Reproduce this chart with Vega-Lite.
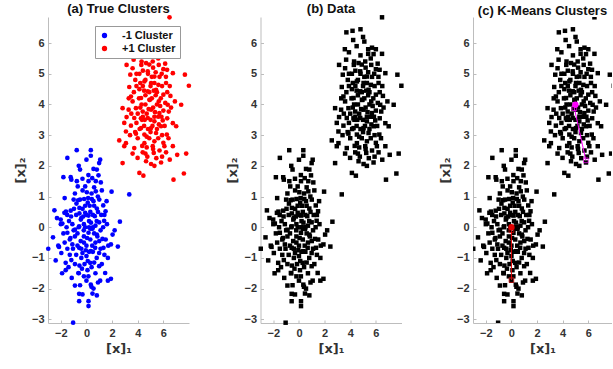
{
  "$schema": "https://vega.github.io/schema/vega-lite/v6.json",
  "background": "white",
  "padding": {"left": 14, "top": 2, "right": 0, "bottom": 0},
  "spacing": 71.5,
  "bounds": "flush",
  "config": {
    "font": "Liberation Sans",
    "view": {"stroke": null},
    "axis": {
      "grid": false,
      "domainColor": "#bdbdbd",
      "tickColor": "#bdbdbd",
      "tickSize": -3,
      "labelPadding": 7,
      "labelFontSize": 11,
      "labelFontWeight": "bold",
      "labelColor": "#333333",
      "titleFont": "DejaVu Sans",
      "titleFontSize": 13,
      "titleFontWeight": "bold",
      "titleColor": "#333333"
    },
    "title": {"fontSize": 13, "fontWeight": "bold", "color": "#111111", "offset": -1}
  },
  "datasets": {
    "pts": [
      {"x": -0.76, "y": 2.51, "c": "-1 Cluster"}, {"x": 0.34, "y": 2.51, "c": "-1 Cluster"}, {"x": 0.34, "y": 2.33, "c": "-1 Cluster"},
      {"x": -1.49, "y": 2.26, "c": "-1 Cluster"}, {"x": 1.07, "y": 2.2, "c": "-1 Cluster"}, {"x": 0.99, "y": 2.09, "c": "-1 Cluster"},
      {"x": -1.8, "y": 1.63, "c": "-1 Cluster"}, {"x": -1.23, "y": 1.63, "c": "-1 Cluster"}, {"x": -1.18, "y": 1.55, "c": "-1 Cluster"},
      {"x": -0.5, "y": 1.88, "c": "-1 Cluster"}, {"x": 0.55, "y": 1.9, "c": "-1 Cluster"}, {"x": 0.81, "y": 1.88, "c": "-1 Cluster"},
      {"x": 0.94, "y": 1.69, "c": "-1 Cluster"}, {"x": -0.31, "y": 1.58, "c": "-1 Cluster"}, {"x": 0.16, "y": 1.5, "c": "-1 Cluster"},
      {"x": 0.73, "y": 1.5, "c": "-1 Cluster"}, {"x": 1.12, "y": 1.46, "c": "-1 Cluster"}, {"x": -1.7, "y": 0.95, "c": "-1 Cluster"},
      {"x": -0.68, "y": 1.33, "c": "-1 Cluster"}, {"x": -0.1, "y": 1.33, "c": "-1 Cluster"}, {"x": 0.03, "y": 1.14, "c": "-1 Cluster"},
      {"x": 0.73, "y": 1.17, "c": "-1 Cluster"}, {"x": 1.96, "y": 1.16, "c": "-1 Cluster"}, {"x": 0.89, "y": 1.0, "c": "-1 Cluster"},
      {"x": 3.34, "y": 1.07, "c": "-1 Cluster"}, {"x": -2.5, "y": 0.55, "c": "-1 Cluster"}, {"x": -1.23, "y": 0.54, "c": "-1 Cluster"},
      {"x": -1.72, "y": 0.47, "c": "-1 Cluster"}, {"x": -1.6, "y": 0.51, "c": "-1 Cluster"}, {"x": -0.65, "y": 0.88, "c": "-1 Cluster"},
      {"x": -0.18, "y": 0.92, "c": "-1 Cluster"}, {"x": 0.13, "y": 0.95, "c": "-1 Cluster"}, {"x": 0.42, "y": 0.92, "c": "-1 Cluster"},
      {"x": 0.55, "y": 0.85, "c": "-1 Cluster"}, {"x": 1.57, "y": 0.85, "c": "-1 Cluster"}, {"x": 1.31, "y": 0.71, "c": "-1 Cluster"},
      {"x": 0.81, "y": 0.61, "c": "-1 Cluster"}, {"x": -0.55, "y": 0.63, "c": "-1 Cluster"}, {"x": -0.78, "y": 0.77, "c": "-1 Cluster"},
      {"x": -0.97, "y": 0.6, "c": "-1 Cluster"}, {"x": -0.1, "y": 0.47, "c": "-1 Cluster"}, {"x": 0.16, "y": 0.38, "c": "-1 Cluster"},
      {"x": 0.65, "y": 0.36, "c": "-1 Cluster"}, {"x": 1.49, "y": 0.52, "c": "-1 Cluster"}, {"x": -2.01, "y": 0.25, "c": "-1 Cluster"},
      {"x": -1.88, "y": 0.12, "c": "-1 Cluster"}, {"x": -1.36, "y": 0.2, "c": "-1 Cluster"}, {"x": -0.44, "y": 0.25, "c": "-1 Cluster"},
      {"x": 0.99, "y": 0.16, "c": "-1 Cluster"}, {"x": 1.38, "y": 0.21, "c": "-1 Cluster"}, {"x": 2.61, "y": 0.18, "c": "-1 Cluster"},
      {"x": -2.61, "y": -0.33, "c": "-1 Cluster"}, {"x": -1.49, "y": -0.18, "c": "-1 Cluster"}, {"x": -1.25, "y": -0.35, "c": "-1 Cluster"},
      {"x": -0.89, "y": -0.08, "c": "-1 Cluster"}, {"x": -0.57, "y": 0.03, "c": "-1 Cluster"}, {"x": -0.21, "y": -0.1, "c": "-1 Cluster"},
      {"x": 0.16, "y": -0.18, "c": "-1 Cluster"}, {"x": 0.47, "y": -0.05, "c": "-1 Cluster"}, {"x": 0.81, "y": -0.24, "c": "-1 Cluster"},
      {"x": 1.25, "y": -0.38, "c": "-1 Cluster"}, {"x": 2.04, "y": -0.24, "c": "-1 Cluster"}, {"x": 2.45, "y": -0.63, "c": "-1 Cluster"},
      {"x": -2.98, "y": -0.7, "c": "-1 Cluster"}, {"x": -2.14, "y": -0.64, "c": "-1 Cluster"}, {"x": -1.96, "y": -0.84, "c": "-1 Cluster"},
      {"x": -1.49, "y": -0.7, "c": "-1 Cluster"}, {"x": -1.1, "y": -0.56, "c": "-1 Cluster"}, {"x": -0.57, "y": -0.67, "c": "-1 Cluster"},
      {"x": -0.31, "y": -0.84, "c": "-1 Cluster"}, {"x": 0.0, "y": -0.94, "c": "-1 Cluster"}, {"x": 0.34, "y": -0.78, "c": "-1 Cluster"},
      {"x": 0.68, "y": -0.67, "c": "-1 Cluster"}, {"x": 0.99, "y": -0.84, "c": "-1 Cluster"}, {"x": 1.33, "y": -0.67, "c": "-1 Cluster"},
      {"x": 1.67, "y": -1.0, "c": "-1 Cluster"}, {"x": 1.91, "y": -0.56, "c": "-1 Cluster"}, {"x": -2.4, "y": -1.08, "c": "-1 Cluster"},
      {"x": -1.62, "y": -1.16, "c": "-1 Cluster"}, {"x": -1.18, "y": -1.07, "c": "-1 Cluster"}, {"x": -0.55, "y": -1.25, "c": "-1 Cluster"},
      {"x": 0.29, "y": -1.16, "c": "-1 Cluster"}, {"x": 0.99, "y": -1.27, "c": "-1 Cluster"}, {"x": 1.46, "y": -1.49, "c": "-1 Cluster"},
      {"x": -1.62, "y": -1.4, "c": "-1 Cluster"}, {"x": -1.15, "y": -1.65, "c": "-1 Cluster"}, {"x": -0.63, "y": -1.49, "c": "-1 Cluster"},
      {"x": 0.08, "y": -1.4, "c": "-1 Cluster"}, {"x": 1.07, "y": -1.74, "c": "-1 Cluster"}, {"x": 1.67, "y": -1.74, "c": "-1 Cluster"},
      {"x": 1.91, "y": -1.68, "c": "-1 Cluster"}, {"x": 0.0, "y": -1.74, "c": "-1 Cluster"}, {"x": 0.34, "y": -1.87, "c": "-1 Cluster"},
      {"x": -0.5, "y": -1.89, "c": "-1 Cluster"}, {"x": 0.39, "y": -1.94, "c": "-1 Cluster"}, {"x": -0.57, "y": -2.17, "c": "-1 Cluster"},
      {"x": -0.31, "y": -2.19, "c": "-1 Cluster"}, {"x": 0.47, "y": -2.16, "c": "-1 Cluster"}, {"x": 0.81, "y": -2.22, "c": "-1 Cluster"},
      {"x": -0.57, "y": -2.41, "c": "-1 Cluster"}, {"x": 0.16, "y": -2.41, "c": "-1 Cluster"}, {"x": 0.16, "y": -2.57, "c": "-1 Cluster"},
      {"x": -1.04, "y": -3.11, "c": "-1 Cluster"},
      {"x": -0.3, "y": 0.6, "c": "-1 Cluster"}, {"x": 0.1, "y": 0.8, "c": "-1 Cluster"}, {"x": 0.6, "y": 0.7, "c": "-1 Cluster"},
      {"x": -0.8, "y": 0.4, "c": "-1 Cluster"}, {"x": -0.4, "y": 0.3, "c": "-1 Cluster"}, {"x": 0.3, "y": 0.5, "c": "-1 Cluster"},
      {"x": 0.8, "y": 0.2, "c": "-1 Cluster"}, {"x": -1.1, "y": 0.1, "c": "-1 Cluster"}, {"x": -0.6, "y": 0.0, "c": "-1 Cluster"},
      {"x": 0.2, "y": 0.2, "c": "-1 Cluster"}, {"x": 0.5, "y": 0.0, "c": "-1 Cluster"}, {"x": 1.1, "y": -0.1, "c": "-1 Cluster"},
      {"x": -1.3, "y": -0.4, "c": "-1 Cluster"}, {"x": -0.9, "y": -0.3, "c": "-1 Cluster"}, {"x": -0.2, "y": -0.3, "c": "-1 Cluster"},
      {"x": 0.3, "y": -0.4, "c": "-1 Cluster"}, {"x": 0.7, "y": -0.5, "c": "-1 Cluster"}, {"x": 1.5, "y": -0.4, "c": "-1 Cluster"},
      {"x": -1.7, "y": -0.5, "c": "-1 Cluster"}, {"x": -0.7, "y": -0.6, "c": "-1 Cluster"}, {"x": 0.0, "y": -0.6, "c": "-1 Cluster"},
      {"x": 0.5, "y": -0.8, "c": "-1 Cluster"}, {"x": 1.1, "y": -0.7, "c": "-1 Cluster"}, {"x": -1.3, "y": -0.9, "c": "-1 Cluster"},
      {"x": -0.4, "y": -1.0, "c": "-1 Cluster"}, {"x": 0.2, "y": -0.8, "c": "-1 Cluster"}, {"x": 0.8, "y": -1.0, "c": "-1 Cluster"},
      {"x": -0.9, "y": -1.2, "c": "-1 Cluster"}, {"x": 0.4, "y": -1.3, "c": "-1 Cluster"}, {"x": 1.2, "y": -1.2, "c": "-1 Cluster"},
      {"x": -0.1, "y": 0.0, "c": "-1 Cluster"}, {"x": 0.0, "y": 0.4, "c": "-1 Cluster"}, {"x": -0.5, "y": 0.9, "c": "-1 Cluster"},
      {"x": 0.4, "y": 1.1, "c": "-1 Cluster"}, {"x": -1.5, "y": 0.4, "c": "-1 Cluster"}, {"x": -2.0, "y": 0.1, "c": "-1 Cluster"},
      {"x": 1.4, "y": 0.4, "c": "-1 Cluster"}, {"x": 0.9, "y": 0.5, "c": "-1 Cluster"}, {"x": -0.2, "y": -0.5, "c": "-1 Cluster"},
      {"x": 0.6, "y": -0.2, "c": "-1 Cluster"}, {"x": -0.7, "y": -0.2, "c": "-1 Cluster"}, {"x": 1.7, "y": -0.6, "c": "-1 Cluster"},
      {"x": -1.8, "y": -0.2, "c": "-1 Cluster"}, {"x": 0.1, "y": -1.1, "c": "-1 Cluster"}, {"x": -0.6, "y": -1.5, "c": "-1 Cluster"},
      {"x": 0.7, "y": -1.5, "c": "-1 Cluster"}, {"x": -2.2, "y": -0.6, "c": "-1 Cluster"}, {"x": -0.3, "y": 1.2, "c": "-1 Cluster"},
      {"x": 0.6, "y": 1.3, "c": "-1 Cluster"}, {"x": 1.0, "y": 0.9, "c": "-1 Cluster"}, {"x": -1.0, "y": 0.9, "c": "-1 Cluster"},
      {"x": 0.2, "y": 0.0, "c": "-1 Cluster"}, {"x": -0.4, "y": -0.7, "c": "-1 Cluster"}, {"x": 1.3, "y": 0.0, "c": "-1 Cluster"},
      {"x": 0.5, "y": 0.4, "c": "-1 Cluster"}, {"x": -0.1, "y": 0.7, "c": "-1 Cluster"},
      {"x": -0.2, "y": 0.1, "c": "-1 Cluster"}, {"x": 0.35, "y": 0.15, "c": "-1 Cluster"}, {"x": -0.45, "y": -0.45, "c": "-1 Cluster"},
      {"x": 0.05, "y": -0.35, "c": "-1 Cluster"}, {"x": 0.45, "y": -0.6, "c": "-1 Cluster"}, {"x": -0.8, "y": -0.9, "c": "-1 Cluster"},
      {"x": 0.25, "y": 0.7, "c": "-1 Cluster"}, {"x": -0.25, "y": 0.35, "c": "-1 Cluster"}, {"x": 0.7, "y": 0.05, "c": "-1 Cluster"},
      {"x": -1.0, "y": -0.1, "c": "-1 Cluster"}, {"x": -0.15, "y": -1.2, "c": "-1 Cluster"}, {"x": 0.6, "y": -1.15, "c": "-1 Cluster"},
      {"x": 1.0, "y": -0.45, "c": "-1 Cluster"}, {"x": -1.2, "y": 0.35, "c": "-1 Cluster"}, {"x": 0.15, "y": 1.7, "c": "-1 Cluster"},
      {"x": -0.9, "y": 1.1, "c": "-1 Cluster"}, {"x": 1.2, "y": 1.2, "c": "-1 Cluster"}, {"x": -1.4, "y": -1.3, "c": "-1 Cluster"},
      {"x": 0.9, "y": -1.8, "c": "-1 Cluster"}, {"x": -0.2, "y": -1.6, "c": "-1 Cluster"}, {"x": 0.55, "y": -2.0, "c": "-1 Cluster"},
      {"x": -0.9, "y": -1.9, "c": "-1 Cluster"}, {"x": 1.6, "y": 0.1, "c": "-1 Cluster"}, {"x": -2.3, "y": 0.3, "c": "-1 Cluster"},
      {"x": 2.2, "y": -0.1, "c": "-1 Cluster"}, {"x": -1.9, "y": -1.5, "c": "-1 Cluster"}, {"x": 0.0, "y": 2.2, "c": "-1 Cluster"},
      {"x": -0.6, "y": 2.0, "c": "-1 Cluster"}, {"x": 0.3, "y": -0.05, "c": "-1 Cluster"}, {"x": -0.05, "y": -0.75, "c": "-1 Cluster"},
      {"x": 0.85, "y": -0.3, "c": "-1 Cluster"}, {"x": -0.55, "y": 0.45, "c": "-1 Cluster"}, {"x": 1.15, "y": 0.4, "c": "-1 Cluster"},
      {"x": -1.55, "y": 0.0, "c": "-1 Cluster"}, {"x": 0.45, "y": 1.6, "c": "-1 Cluster"}, {"x": -0.35, "y": -1.35, "c": "-1 Cluster"},
      {"x": 1.4, "y": -0.9, "c": "-1 Cluster"}, {"x": -1.05, "y": -0.7, "c": "-1 Cluster"}, {"x": 0.15, "y": -1.6, "c": "-1 Cluster"},
      {"x": -0.75, "y": 1.5, "c": "-1 Cluster"},

      {"x": 6.48, "y": 6.84, "c": "+1 Cluster"}, {"x": 3.7, "y": 6.35, "c": "+1 Cluster"}, {"x": 4.18, "y": 6.4, "c": "+1 Cluster"},
      {"x": 4.8, "y": 6.45, "c": "+1 Cluster"}, {"x": 4.23, "y": 6.1, "c": "+1 Cluster"}, {"x": 5.1, "y": 6.05, "c": "+1 Cluster"},
      {"x": 3.58, "y": 5.8, "c": "+1 Cluster"}, {"x": 5.7, "y": 5.85, "c": "+1 Cluster"}, {"x": 6.0, "y": 5.8, "c": "+1 Cluster"},
      {"x": 5.4, "y": 5.65, "c": "+1 Cluster"}, {"x": 5.82, "y": 5.64, "c": "+1 Cluster"}, {"x": 6.48, "y": 5.65, "c": "+1 Cluster"},
      {"x": 3.68, "y": 5.46, "c": "+1 Cluster"}, {"x": 3.13, "y": 5.29, "c": "+1 Cluster"}, {"x": 3.6, "y": 5.18, "c": "+1 Cluster"},
      {"x": 4.28, "y": 5.29, "c": "+1 Cluster"}, {"x": 4.65, "y": 5.35, "c": "+1 Cluster"}, {"x": 5.17, "y": 5.4, "c": "+1 Cluster"},
      {"x": 5.64, "y": 5.29, "c": "+1 Cluster"}, {"x": 6.14, "y": 5.33, "c": "+1 Cluster"}, {"x": 6.29, "y": 5.13, "c": "+1 Cluster"},
      {"x": 6.74, "y": 5.02, "c": "+1 Cluster"}, {"x": 7.68, "y": 4.97, "c": "+1 Cluster"}, {"x": 7.99, "y": 4.61, "c": "+1 Cluster"},
      {"x": 3.42, "y": 4.97, "c": "+1 Cluster"}, {"x": 4.13, "y": 5.0, "c": "+1 Cluster"}, {"x": 4.78, "y": 5.08, "c": "+1 Cluster"},
      {"x": 5.3, "y": 4.91, "c": "+1 Cluster"}, {"x": 5.87, "y": 5.0, "c": "+1 Cluster"}, {"x": 3.81, "y": 4.8, "c": "+1 Cluster"},
      {"x": 4.52, "y": 4.75, "c": "+1 Cluster"}, {"x": 5.04, "y": 4.7, "c": "+1 Cluster"}, {"x": 5.61, "y": 4.64, "c": "+1 Cluster"},
      {"x": 6.21, "y": 4.7, "c": "+1 Cluster"}, {"x": 3.34, "y": 4.57, "c": "+1 Cluster"}, {"x": 4.13, "y": 4.5, "c": "+1 Cluster"},
      {"x": 4.78, "y": 4.43, "c": "+1 Cluster"}, {"x": 5.43, "y": 4.48, "c": "+1 Cluster"}, {"x": 6.0, "y": 4.32, "c": "+1 Cluster"},
      {"x": 6.55, "y": 4.28, "c": "+1 Cluster"}, {"x": 3.47, "y": 4.26, "c": "+1 Cluster"}, {"x": 4.26, "y": 4.21, "c": "+1 Cluster"},
      {"x": 4.91, "y": 4.15, "c": "+1 Cluster"}, {"x": 5.64, "y": 4.1, "c": "+1 Cluster"}, {"x": 6.34, "y": 3.99, "c": "+1 Cluster"},
      {"x": 7.39, "y": 3.99, "c": "+1 Cluster"}, {"x": 2.82, "y": 3.88, "c": "+1 Cluster"}, {"x": 3.29, "y": 3.83, "c": "+1 Cluster"},
      {"x": 3.86, "y": 3.88, "c": "+1 Cluster"}, {"x": 4.39, "y": 3.77, "c": "+1 Cluster"}, {"x": 5.04, "y": 3.83, "c": "+1 Cluster"},
      {"x": 5.69, "y": 3.72, "c": "+1 Cluster"}, {"x": 6.42, "y": 3.77, "c": "+1 Cluster"}, {"x": 3.13, "y": 3.59, "c": "+1 Cluster"},
      {"x": 3.73, "y": 3.56, "c": "+1 Cluster"}, {"x": 4.33, "y": 3.5, "c": "+1 Cluster"}, {"x": 4.78, "y": 3.56, "c": "+1 Cluster"},
      {"x": 5.3, "y": 3.45, "c": "+1 Cluster"}, {"x": 5.95, "y": 3.48, "c": "+1 Cluster"}, {"x": 6.74, "y": 3.39, "c": "+1 Cluster"},
      {"x": 2.95, "y": 3.4, "c": "+1 Cluster"}, {"x": 3.47, "y": 3.31, "c": "+1 Cluster"}, {"x": 4.26, "y": 3.23, "c": "+1 Cluster"},
      {"x": 5.04, "y": 3.23, "c": "+1 Cluster"}, {"x": 5.82, "y": 3.29, "c": "+1 Cluster"}, {"x": 7.0, "y": 3.29, "c": "+1 Cluster"},
      {"x": 3.08, "y": 3.12, "c": "+1 Cluster"}, {"x": 3.86, "y": 3.05, "c": "+1 Cluster"}, {"x": 4.52, "y": 3.02, "c": "+1 Cluster"},
      {"x": 5.43, "y": 3.07, "c": "+1 Cluster"}, {"x": 6.27, "y": 3.02, "c": "+1 Cluster"}, {"x": 2.56, "y": 2.83, "c": "+1 Cluster"},
      {"x": 3.08, "y": 2.74, "c": "+1 Cluster"}, {"x": 2.95, "y": 2.64, "c": "+1 Cluster"}, {"x": 3.73, "y": 2.58, "c": "+1 Cluster"},
      {"x": 4.52, "y": 2.74, "c": "+1 Cluster"}, {"x": 5.17, "y": 2.64, "c": "+1 Cluster"}, {"x": 6.08, "y": 2.64, "c": "+1 Cluster"},
      {"x": 6.74, "y": 2.64, "c": "+1 Cluster"}, {"x": 4.39, "y": 2.44, "c": "+1 Cluster"}, {"x": 5.25, "y": 2.42, "c": "+1 Cluster"},
      {"x": 6.21, "y": 2.44, "c": "+1 Cluster"}, {"x": 7.08, "y": 2.36, "c": "+1 Cluster"}, {"x": 7.78, "y": 2.4, "c": "+1 Cluster"},
      {"x": 3.99, "y": 2.26, "c": "+1 Cluster"}, {"x": 4.65, "y": 2.15, "c": "+1 Cluster"}, {"x": 5.04, "y": 2.06, "c": "+1 Cluster"},
      {"x": 5.82, "y": 2.11, "c": "+1 Cluster"}, {"x": 2.82, "y": 2.09, "c": "+1 Cluster"}, {"x": 4.13, "y": 1.77, "c": "+1 Cluster"},
      {"x": 4.44, "y": 1.68, "c": "+1 Cluster"}, {"x": 7.6, "y": 1.75, "c": "+1 Cluster"}, {"x": 6.79, "y": 1.55, "c": "+1 Cluster"},
      {"x": 4.4, "y": 4.6, "c": "+1 Cluster"}, {"x": 4.9, "y": 4.4, "c": "+1 Cluster"}, {"x": 5.3, "y": 4.7, "c": "+1 Cluster"},
      {"x": 5.8, "y": 4.2, "c": "+1 Cluster"}, {"x": 4.2, "y": 3.9, "c": "+1 Cluster"}, {"x": 4.7, "y": 3.7, "c": "+1 Cluster"},
      {"x": 5.2, "y": 3.9, "c": "+1 Cluster"}, {"x": 5.6, "y": 3.6, "c": "+1 Cluster"}, {"x": 6.0, "y": 3.8, "c": "+1 Cluster"},
      {"x": 3.9, "y": 3.4, "c": "+1 Cluster"}, {"x": 4.5, "y": 3.3, "c": "+1 Cluster"}, {"x": 5.0, "y": 3.5, "c": "+1 Cluster"},
      {"x": 5.5, "y": 3.2, "c": "+1 Cluster"}, {"x": 6.1, "y": 3.3, "c": "+1 Cluster"}, {"x": 4.1, "y": 4.2, "c": "+1 Cluster"},
      {"x": 4.6, "y": 4.0, "c": "+1 Cluster"}, {"x": 5.4, "y": 4.3, "c": "+1 Cluster"}, {"x": 5.9, "y": 4.6, "c": "+1 Cluster"},
      {"x": 4.8, "y": 5.0, "c": "+1 Cluster"}, {"x": 5.2, "y": 5.2, "c": "+1 Cluster"}, {"x": 5.6, "y": 5.5, "c": "+1 Cluster"},
      {"x": 4.3, "y": 5.4, "c": "+1 Cluster"}, {"x": 4.9, "y": 2.9, "c": "+1 Cluster"}, {"x": 5.3, "y": 2.8, "c": "+1 Cluster"},
      {"x": 5.7, "y": 2.5, "c": "+1 Cluster"}, {"x": 4.7, "y": 2.6, "c": "+1 Cluster"}, {"x": 4.0, "y": 2.9, "c": "+1 Cluster"},
      {"x": 6.3, "y": 4.4, "c": "+1 Cluster"}, {"x": 6.6, "y": 3.9, "c": "+1 Cluster"}, {"x": 3.6, "y": 4.1, "c": "+1 Cluster"},
      {"x": 3.5, "y": 3.7, "c": "+1 Cluster"}, {"x": 4.6, "y": 4.8, "c": "+1 Cluster"}, {"x": 5.1, "y": 4.9, "c": "+1 Cluster"},
      {"x": 5.5, "y": 4.0, "c": "+1 Cluster"}, {"x": 4.4, "y": 3.6, "c": "+1 Cluster"}, {"x": 5.0, "y": 3.1, "c": "+1 Cluster"},
      {"x": 5.9, "y": 3.0, "c": "+1 Cluster"}, {"x": 4.8, "y": 3.2, "c": "+1 Cluster"}, {"x": 5.3, "y": 3.6, "c": "+1 Cluster"},
      {"x": 4.2, "y": 4.7, "c": "+1 Cluster"}, {"x": 3.9, "y": 4.6, "c": "+1 Cluster"}, {"x": 5.7, "y": 4.9, "c": "+1 Cluster"},
      {"x": 6.2, "y": 4.9, "c": "+1 Cluster"}, {"x": 4.0, "y": 3.7, "c": "+1 Cluster"}, {"x": 5.1, "y": 4.2, "c": "+1 Cluster"},
      {"x": 4.6, "y": 2.4, "c": "+1 Cluster"}, {"x": 5.9, "y": 2.3, "c": "+1 Cluster"}, {"x": 6.4, "y": 2.9, "c": "+1 Cluster"},
      {"x": 3.8, "y": 3.1, "c": "+1 Cluster"}, {"x": 5.4, "y": 5.8, "c": "+1 Cluster"}, {"x": 4.8, "y": 5.6, "c": "+1 Cluster"},
      {"x": 5.0, "y": 6.2, "c": "+1 Cluster"},
      {"x": 4.6, "y": 4.3, "c": "+1 Cluster"}, {"x": 5.0, "y": 4.6, "c": "+1 Cluster"}, {"x": 5.5, "y": 4.4, "c": "+1 Cluster"},
      {"x": 4.3, "y": 4.0, "c": "+1 Cluster"}, {"x": 4.85, "y": 3.85, "c": "+1 Cluster"}, {"x": 5.35, "y": 3.75, "c": "+1 Cluster"},
      {"x": 5.75, "y": 3.95, "c": "+1 Cluster"}, {"x": 4.55, "y": 3.5, "c": "+1 Cluster"}, {"x": 5.15, "y": 3.3, "c": "+1 Cluster"},
      {"x": 5.65, "y": 3.35, "c": "+1 Cluster"}, {"x": 4.15, "y": 3.2, "c": "+1 Cluster"}, {"x": 4.7, "y": 2.95, "c": "+1 Cluster"},
      {"x": 5.2, "y": 2.55, "c": "+1 Cluster"}, {"x": 6.0, "y": 2.75, "c": "+1 Cluster"}, {"x": 4.35, "y": 2.65, "c": "+1 Cluster"},
      {"x": 5.45, "y": 2.25, "c": "+1 Cluster"}, {"x": 4.9, "y": 5.3, "c": "+1 Cluster"}, {"x": 5.4, "y": 5.05, "c": "+1 Cluster"},
      {"x": 4.4, "y": 5.1, "c": "+1 Cluster"}, {"x": 3.9, "y": 5.0, "c": "+1 Cluster"}, {"x": 6.0, "y": 5.15, "c": "+1 Cluster"},
      {"x": 6.5, "y": 4.6, "c": "+1 Cluster"}, {"x": 3.7, "y": 4.4, "c": "+1 Cluster"}, {"x": 3.3, "y": 4.2, "c": "+1 Cluster"},
      {"x": 6.9, "y": 4.1, "c": "+1 Cluster"}, {"x": 6.3, "y": 3.55, "c": "+1 Cluster"}, {"x": 3.4, "y": 3.0, "c": "+1 Cluster"},
      {"x": 4.95, "y": 4.15, "c": "+1 Cluster"}, {"x": 5.25, "y": 4.45, "c": "+1 Cluster"}, {"x": 4.5, "y": 4.45, "c": "+1 Cluster"},
      {"x": 5.85, "y": 3.6, "c": "+1 Cluster"}, {"x": 4.25, "y": 3.55, "c": "+1 Cluster"}, {"x": 6.15, "y": 4.05, "c": "+1 Cluster"},
      {"x": 5.6, "y": 2.9, "c": "+1 Cluster"}, {"x": 4.75, "y": 2.3, "c": "+1 Cluster"}, {"x": 5.3, "y": 2.0, "c": "+1 Cluster"},
      {"x": 3.6, "y": 2.4, "c": "+1 Cluster"}, {"x": 6.5, "y": 2.2, "c": "+1 Cluster"}, {"x": 3.9, "y": 5.7, "c": "+1 Cluster"},
      {"x": 4.5, "y": 5.9, "c": "+1 Cluster"}
    ],
    "centroids": [
      {"k": "A", "it": 1, "x": 0.0, "y": -1.72},
      {"k": "A", "it": 2, "x": 0.0, "y": -0.1},
      {"k": "A", "it": 3, "x": 0.0, "y": 0.0},
      {"k": "B", "it": 1, "x": 5.81, "y": 2.18},
      {"k": "B", "it": 2, "x": 4.91, "y": 3.88},
      {"k": "B", "it": 3, "x": 4.99, "y": 3.99}
    ]
  },
  "hconcat": [
    {
      "width": 141,
      "height": 306,
      "title": "(a) True Clusters",
      "data": {"name": "pts"},
      "mark": {"type": "point", "shape": "circle", "filled": true, "size": 22, "opacity": 1},
      "encoding": {
        "x": {"field": "x", "type": "quantitative", "scale": {"domain": [-3, 8], "nice": false, "zero": false},
              "axis": {"values": [-2, 0, 2, 4, 6], "title": "[x]₁"}},
        "y": {"field": "y", "type": "quantitative", "scale": {"domain": [-3.12, 6.85], "nice": false, "zero": false},
              "axis": {"values": [-3, -2, -1, 0, 1, 2, 3, 4, 5, 6], "title": "[x]₂"}},
        "color": {
          "field": "c", "type": "nominal",
          "scale": {"domain": ["-1 Cluster", "+1 Cluster"], "range": ["#0000ff", "#ff0000"]},
          "legend": {
            "title": null, "orient": "none", "legendX": 47, "legendY": 9,
            "strokeColor": "#999999", "fillColor": "white", "padding": 4, "rowPadding": 1,
            "labelFontSize": 11, "labelFontWeight": "bold", "labelColor": "#111111",
            "symbolSize": 28, "symbolType": "circle", "labelOffset": 12
          }
        }
      }
    },
    {
      "width": 141,
      "height": 306,
      "title": "(b) Data",
      "data": {"name": "pts"},
      "mark": {"type": "square", "size": 20, "color": "black", "opacity": 1},
      "encoding": {
        "x": {"field": "x", "type": "quantitative", "scale": {"domain": [-3, 8], "nice": false, "zero": false},
              "axis": {"values": [-2, 0, 2, 4, 6], "title": "[x]₁"}},
        "y": {"field": "y", "type": "quantitative", "scale": {"domain": [-3.12, 6.85], "nice": false, "zero": false},
              "axis": {"values": [-3, -2, -1, 0, 1, 2, 3, 4, 5, 6], "title": "[x]₂"}}
      }
    },
    {
      "width": 139,
      "height": 306,
      "title": "(c) K-Means Clusters",
      "encoding": {
        "x": {"field": "x", "type": "quantitative", "scale": {"domain": [-3, 7.85], "nice": false, "zero": false},
              "axis": {"values": [-2, 0, 2, 4, 6], "title": "[x]₁"}},
        "y": {"field": "y", "type": "quantitative", "scale": {"domain": [-3.12, 6.85], "nice": false, "zero": false},
              "axis": {"values": [-3, -2, -1, 0, 1, 2, 3, 4, 5, 6], "title": "[x]₂"}}
      },
      "layer": [
        {
          "data": {"name": "pts"},
          "mark": {"type": "square", "size": 20, "color": "black", "opacity": 1, "clip": true}
        },
        {
          "data": {"name": "centroids"},
          "transform": [{"filter": "datum.k === 'A'"}],
          "mark": {"type": "line", "color": "#e00000", "strokeWidth": 1, "clip": true},
          "encoding": {"order": {"field": "it"}}
        },
        {
          "data": {"name": "centroids"},
          "transform": [{"filter": "datum.k === 'B'"}],
          "mark": {"type": "line", "color": "#ff00ff", "strokeWidth": 1, "clip": true},
          "encoding": {"order": {"field": "it"}}
        },
        {
          "data": {"name": "centroids"},
          "transform": [{"filter": "datum.k === 'A' && datum.it < 3"}],
          "mark": {"type": "square", "filled": false, "size": 22, "color": "#e00000", "strokeWidth": 1, "clip": true}
        },
        {
          "data": {"name": "centroids"},
          "transform": [{"filter": "datum.k === 'B' && datum.it < 3"}],
          "mark": {"type": "square", "filled": false, "size": 22, "color": "#ff00ff", "strokeWidth": 1, "clip": true}
        },
        {
          "data": {"name": "centroids"},
          "transform": [{"filter": "datum.k === 'A' && datum.it === 3"}],
          "mark": {"type": "circle", "size": 40, "color": "#e00000", "opacity": 1, "clip": true}
        },
        {
          "data": {"name": "centroids"},
          "transform": [{"filter": "datum.k === 'B' && datum.it === 3"}],
          "mark": {"type": "circle", "size": 40, "color": "#ff00ff", "opacity": 1, "clip": true}
        }
      ]
    }
  ]
}
